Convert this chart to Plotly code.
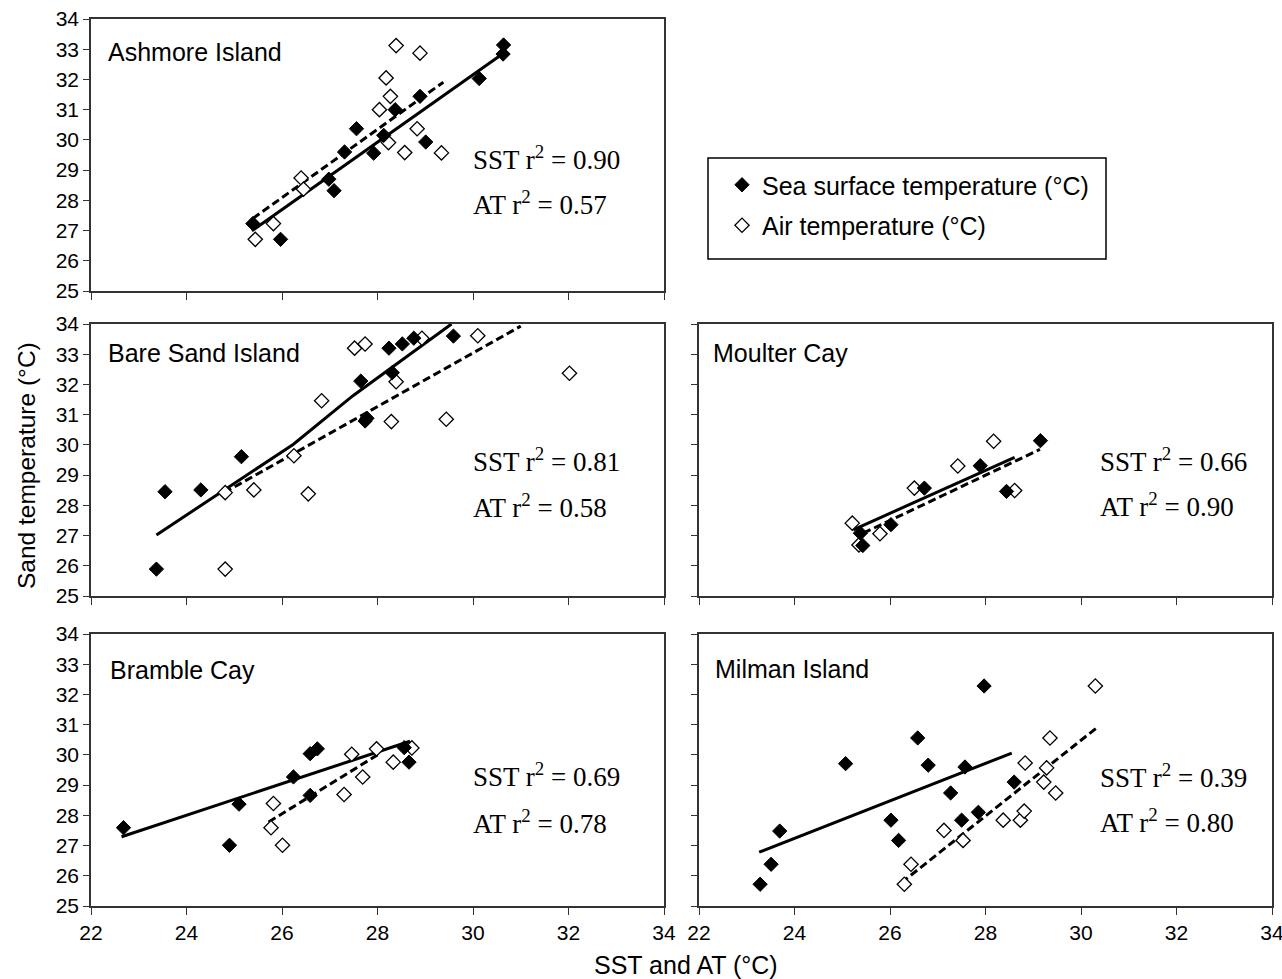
import plotly.graph_objects as go

# ---------------- data ----------------
ashmore_sst_x = [25.39, 25.97, 26.98, 27.09, 27.31, 27.56, 27.92, 28.13, 28.37, 28.89, 29.01, 30.13, 30.63, 30.64]
ashmore_sst_y = [27.23, 26.71, 28.70, 28.32, 29.60, 30.37, 29.56, 30.15, 31.00, 31.44, 29.93, 32.03, 32.84, 33.14]
ashmore_at_x = [25.44, 25.82, 26.40, 26.45, 28.04, 28.18, 28.27, 28.23, 28.39, 28.57, 28.83, 28.89, 29.34]
ashmore_at_y = [26.71, 27.23, 28.74, 28.37, 31.00, 32.05, 31.44, 29.91, 33.12, 29.58, 30.37, 32.87, 29.57]
ashmore_sst_fit_x = [25.37, 30.63]
ashmore_sst_fit_y = [26.99, 32.86]
ashmore_at_fit_x = [25.39, 29.38]
ashmore_at_fit_y = [27.40, 31.91]

baresand_sst_x = [23.37, 23.55, 24.30, 25.15, 27.65, 27.74, 27.78, 28.24, 28.31, 28.52, 28.76, 29.59]
baresand_sst_y = [25.89, 28.45, 28.51, 29.61, 32.11, 30.79, 30.88, 33.20, 32.39, 33.34, 33.53, 33.60]
baresand_at_x = [24.81, 24.81, 25.41, 26.25, 26.55, 26.83, 27.52, 27.74, 28.29, 28.39, 28.93, 29.44, 30.10, 32.02]
baresand_at_y = [25.89, 28.42, 28.51, 29.64, 28.38, 31.46, 33.20, 33.34, 30.77, 32.09, 33.53, 30.85, 33.61, 32.37]
baresand_sst_fit_x = [23.37, 26.24, 27.48, 29.55]
baresand_sst_fit_y = [27.02, 30.02, 31.62, 34.00]
baresand_at_fit_x = [24.79, 31.00]
baresand_at_fit_y = [28.42, 33.93]

bramble_sst_x = [22.68, 24.90, 25.10, 26.24, 26.59, 26.59, 26.74, 28.56, 28.66]
bramble_sst_y = [27.59, 27.01, 28.37, 29.27, 28.66, 30.04, 30.20, 30.24, 29.76]
bramble_at_x = [25.77, 25.82, 26.01, 27.30, 27.46, 27.69, 27.98, 28.33, 28.72]
bramble_at_y = [27.59, 28.39, 27.01, 28.69, 30.02, 29.27, 30.20, 29.76, 30.23]
bramble_sst_fit_x = [22.64, 28.68]
bramble_sst_fit_y = [27.29, 30.45]
bramble_at_fit_x = [25.72, 28.00]
bramble_at_fit_y = [27.78, 30.00]

moulter_sst_x = [25.38, 25.43, 26.02, 26.72, 27.89, 28.44, 29.15]
moulter_sst_y = [27.08, 26.67, 27.36, 28.57, 29.31, 28.46, 30.14]
moulter_at_x = [25.21, 25.35, 25.79, 26.51, 27.42, 28.17, 28.61]
moulter_at_y = [27.41, 26.69, 27.06, 28.57, 29.30, 30.12, 28.49]
moulter_sst_fit_x = [25.23, 28.61]
moulter_sst_fit_y = [27.19, 29.59]
moulter_at_fit_x = [25.44, 29.14]
moulter_at_fit_y = [27.08, 29.85]

milman_sst_x = [23.28, 23.51, 23.69, 25.07, 26.02, 26.18, 26.58, 26.80, 27.27, 27.50, 27.57, 27.85, 27.97, 28.60]
milman_sst_y = [25.72, 26.38, 27.48, 29.71, 27.84, 27.17, 30.56, 29.66, 28.74, 27.84, 29.60, 28.10, 32.28, 29.10]
milman_at_x = [26.30, 26.44, 27.13, 27.53, 28.37, 28.73, 28.81, 28.83, 29.22, 29.28, 29.35, 29.47, 30.30]
milman_at_y = [25.72, 26.38, 27.50, 27.17, 27.84, 27.84, 28.14, 29.73, 29.10, 29.57, 30.56, 28.74, 32.28]
milman_sst_fit_x = [23.26, 28.55]
milman_sst_fit_y = [26.78, 30.06]
milman_at_fit_x = [26.24, 30.34]
milman_at_fit_y = [25.77, 30.91]

site_names = ["Ashmore Island", "Bare Sand Island", "Bramble Cay", "Moulter Cay", "Milman Island"]
sst_r2 = ["0.90", "0.81", "0.69", "0.66", "0.39"]
at_r2 = ["0.57", "0.58", "0.78", "0.90", "0.80"]
x_ticks = [22, 24, 26, 28, 30, 32, 34]
y_ticks = [25, 26, 27, 28, 29, 30, 31, 32, 33, 34]

panels = [
    (ashmore_sst_x, ashmore_sst_y, ashmore_at_x, ashmore_at_y,
     ashmore_sst_fit_x, ashmore_sst_fit_y, ashmore_at_fit_x, ashmore_at_fit_y),
    (baresand_sst_x, baresand_sst_y, baresand_at_x, baresand_at_y,
     baresand_sst_fit_x, baresand_sst_fit_y, baresand_at_fit_x, baresand_at_fit_y),
    (bramble_sst_x, bramble_sst_y, bramble_at_x, bramble_at_y,
     bramble_sst_fit_x, bramble_sst_fit_y, bramble_at_fit_x, bramble_at_fit_y),
    (moulter_sst_x, moulter_sst_y, moulter_at_x, moulter_at_y,
     moulter_sst_fit_x, moulter_sst_fit_y, moulter_at_fit_x, moulter_at_fit_y),
    (milman_sst_x, milman_sst_y, milman_at_x, milman_at_y,
     milman_sst_fit_x, milman_sst_fit_y, milman_at_fit_x, milman_at_fit_y),
]

# ---------------- layout geometry ----------------
W, H = 1282, 979


def px(x):
    return x / W


def py(y):
    return 1 - y / H


LEFT_X = [px(91), px(664)]
RIGHT_X = [px(699), px(1272)]
ROW_Y = [
    [py(291), py(19)],
    [py(596), py(324)],
    [py(906), py(634)],
]
panel_geom = [
    (LEFT_X, ROW_Y[0], True, False),
    (LEFT_X, ROW_Y[1], True, False),
    (LEFT_X, ROW_Y[2], True, True),
    (RIGHT_X, ROW_Y[1], False, False),
    (RIGHT_X, ROW_Y[2], False, True),
]
title_pos = [(0.027, 0.879), (0.027, 0.893), (0.030, 0.868), (0.021, 0.893), (0.024, 0.871)]
r2_pos = [(0.663, 0.489, 0.3235), (0.663, 0.50, 0.331), (0.663, 0.48, 0.31),
          (0.696, 0.50, 0.335), (0.696, 0.478, 0.313)]

SANS = "Liberation Sans, Arial, sans-serif"
SERIF = "Liberation Serif, Times New Roman, serif"

fig = go.Figure()
layout = dict(
    width=W, height=H,
    margin=dict(l=0, r=0, t=0, b=0),
    paper_bgcolor="white", plot_bgcolor="white",
    font=dict(family=SANS, color="black"),
    annotations=[], shapes=[],
)

for i, (data, geom) in enumerate(zip(panels, panel_geom)):
    sx, sy, ax, ay, sfx, sfy, afx, afy = data
    xd, yd, show_y, show_x = geom
    n = "" if i == 0 else str(i + 1)
    xa, ya = "x" + n, "y" + n
    fig.add_trace(go.Scatter(x=sfx, y=sfy, mode="lines", xaxis=xa, yaxis=ya,
                             line=dict(color="black", width=3), showlegend=False,
                             hoverinfo="skip"))
    fig.add_trace(go.Scatter(x=afx, y=afy, mode="lines", xaxis=xa, yaxis=ya,
                             line=dict(color="black", width=3, dash="8px,4px"),
                             showlegend=False, hoverinfo="skip"))
    fig.add_trace(go.Scatter(x=ax, y=ay, mode="markers", xaxis=xa, yaxis=ya,
                             name="Air temperature (°C)", legendgroup="at",
                             legendrank=2, showlegend=(i == 0),
                             marker=dict(symbol="diamond", size=11, color="white",
                                         line=dict(color="black", width=1.3))))
    fig.add_trace(go.Scatter(x=sx, y=sy, mode="markers", xaxis=xa, yaxis=ya,
                             name="Sea surface temperature (°C)", legendgroup="sst",
                             legendrank=1, showlegend=(i == 0),
                             marker=dict(symbol="diamond", size=11, color="black",
                                         line=dict(color="black", width=1))))
    key = "axis" + n
    layout["x" + key] = dict(
        domain=xd, anchor=ya, range=[22, 34], tickvals=x_ticks, automargin=False,
        showticklabels=show_x, ticks="outside", ticklen=7, tickcolor="#333",
        showline=True, linecolor="#333", linewidth=1.5, mirror=True,
        showgrid=False, zeroline=False, tickfont=dict(size=21, family=SANS),
        ticklabeloverflow="allow",
    )
    layout["y" + key] = dict(
        domain=yd, anchor=xa, range=[25, 34], tickvals=y_ticks, automargin=False,
        showticklabels=show_y, ticks="outside", ticklen=6, tickcolor="#333",
        showline=True, linecolor="#333", linewidth=1.5, mirror=True,
        showgrid=False, zeroline=False, tickfont=dict(size=21, family=SANS),
        ticklabeloverflow="allow",
    )
    tx, ty = title_pos[i]
    layout["annotations"].append(dict(
        text=site_names[i], xref=xa + " domain", yref=ya + " domain",
        x=tx, y=ty, xanchor="left", yanchor="middle", showarrow=False,
        font=dict(size=25, family=SANS)))
    rx, ry1, ry2 = r2_pos[i]
    layout["annotations"].append(dict(
        text="SST r<sup>2</sup> = " + sst_r2[i], xref=xa + " domain", yref=ya + " domain",
        x=rx, y=ry1, xanchor="left", yanchor="middle", showarrow=False,
        font=dict(size=27, family=SERIF)))
    layout["annotations"].append(dict(
        text="AT r<sup>2</sup> = " + at_r2[i], xref=xa + " domain", yref=ya + " domain",
        x=rx, y=ry2, xanchor="left", yanchor="middle", showarrow=False,
        font=dict(size=27, family=SERIF)))

layout["annotations"].append(dict(
    text="SST and AT (°C)", xref="paper", yref="paper", x=px(686), y=py(965),
    xanchor="center", yanchor="middle", showarrow=False, font=dict(size=25, family=SANS)))
layout["annotations"].append(dict(
    text="Sand temperature (°C)", xref="paper", yref="paper", x=px(27), y=py(466),
    xanchor="center", yanchor="middle", textangle=-90, showarrow=False,
    font=dict(size=24.5, family=SANS)))

# legend frame drawn as a shape, entries from the plotly legend
layout["shapes"].append(dict(
    type="rect", xref="paper", yref="paper",
    x0=px(708), x1=px(1106), y0=py(259), y1=py(158),
    line=dict(color="black", width=1.5), fillcolor="white", layer="below"))
layout["legend"] = dict(
    x=px(710), y=py(162), xanchor="left", yanchor="top",
    borderwidth=0, bgcolor="rgba(0,0,0,0)",
    font=dict(size=25, family=SANS), traceorder="grouped",
    tracegroupgap=5, itemsizing="trace", indentation=12,
)
layout["showlegend"] = True

fig.update_layout(**layout)
# remove the default 8px page margin so the figure fills the window exactly
fig.write_html("out.html", config={"displayModeBar": False},
               post_script="document.body.style.margin='0';")
